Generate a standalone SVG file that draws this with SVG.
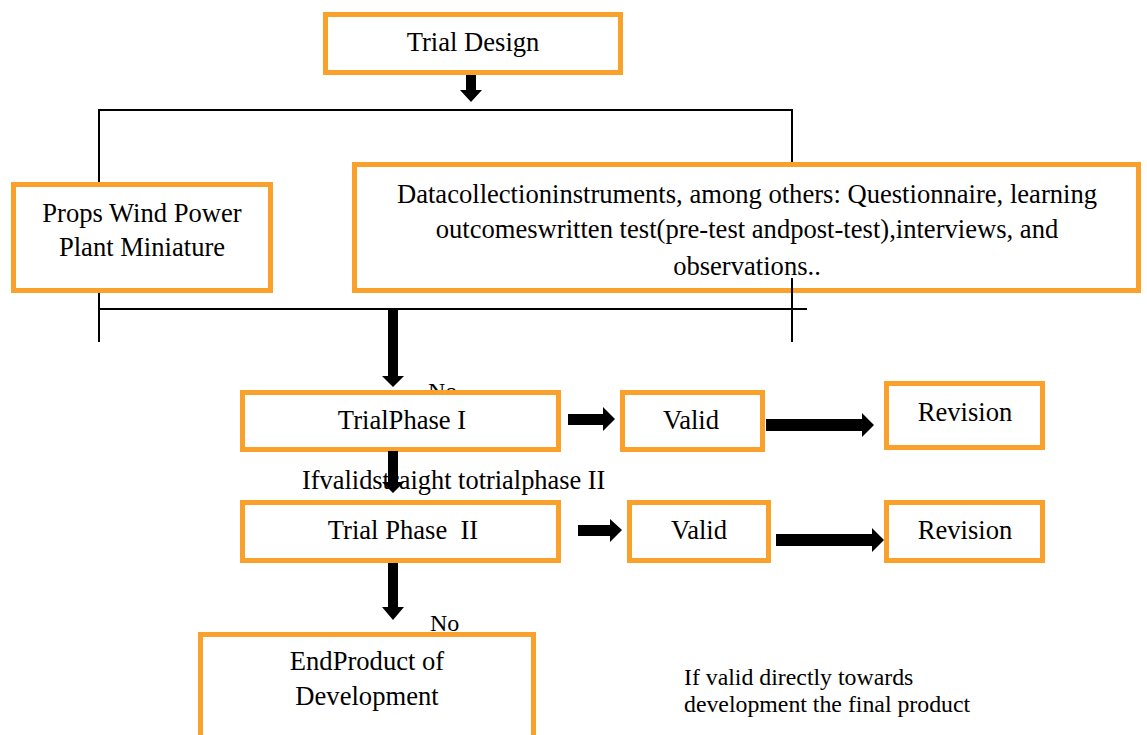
<svg xmlns="http://www.w3.org/2000/svg" width="1147" height="735" viewBox="0 0 1147 735">
<style>
.box{fill:#fff;stroke:#F9A12B;stroke-width:5}
.t{font-family:"Liberation Serif","Times New Roman",serif;font-size:26.6px;fill:#000;text-anchor:middle}
.tl{font-family:"Liberation Serif","Times New Roman",serif;font-size:26.4px;fill:#000}
.no{font-family:"Liberation Serif","Times New Roman",serif;font-size:24px;fill:#000}
.nt{font-family:"Liberation Serif","Times New Roman",serif;font-size:23.8px;fill:#000}
.ln{stroke:#000;stroke-width:2;fill:none}
.ar{fill:#000}
</style>
<rect width="1147" height="735" fill="#fff"/>
<g id="connectors">
<line class="ln" x1="99" y1="110" x2="793" y2="110"/>
<line class="ln" x1="99" y1="109" x2="99" y2="183"/>
<line class="ln" x1="792" y1="109" x2="792" y2="190"/>
<line class="ln" x1="99" y1="309" x2="807" y2="309"/>
<line class="ln" x1="99" y1="292" x2="99" y2="342"/>
<line class="ln" x1="792" y1="278" x2="792" y2="342"/>
<polygon class="ar" points="466,75 476,75 476,90 482,90 471,102 460,90 466,90"/>
<polygon class="ar" points="388,309 398,309 398,376 404,376 393,387 382,376 388,376"/>
<polygon class="ar" points="388,563 398,563 398,607 404,607 393,620 382,607 388,607"/>
<polygon class="ar" points="568,414 603,414 603,407 615,419 603,431 603,425 568,425"/>
<polygon class="ar" points="766,419 862,419 862,413 874,425 862,437 862,431 766,431"/>
<polygon class="ar" points="578,525 610,525 610,519 622,530 610,542 610,536 578,536"/>
<polygon class="ar" points="776,534 872,534 872,528 884,540 872,552 872,546 776,546"/>
</g>
<text class="no" x="428" y="399">No</text>
<text class="no" x="430" y="631">No</text>
<g id="trial-design"><rect class="box" x="325.5" y="14.5" width="295" height="58"/><text class="t" x="473" y="51">Trial Design</text></g>
<g id="props"><rect class="box" x="13.5" y="184.5" width="257" height="106"/><text class="t" x="142" y="222">Props Wind Power</text><text class="t" x="142" y="256">Plant Miniature</text></g>
<g id="data"><rect class="box" x="354.5" y="164.5" width="784" height="126"/><text class="t" x="747" y="203">Datacollectioninstruments, among others: Questionnaire, learning</text><text class="t" x="747" y="238">outcomeswritten test(pre-test andpost-test),interviews, and</text><text class="t" x="747" y="275">observations..</text></g>
<line class="ln" x1="792" y1="278" x2="792" y2="295"/>
<g id="phase1"><rect class="box" x="242.5" y="392.5" width="316" height="57"/><text class="t" x="402" y="429">TrialPhase I</text></g>
<g id="valid1"><rect class="box" x="622.5" y="392.5" width="140" height="57"/><text class="t" x="691" y="429">Valid</text></g>
<g id="revision1"><rect class="box" x="886.5" y="383.5" width="156" height="64"/><text class="t" x="965" y="421">Revision</text></g>
<text class="tl" x="302" y="489">Ifvalidstraight totrialphase II</text>
<polygon class="ar" points="388,451 398,451 398,482 404,482 393,493 382,482 388,482"/>
<g id="phase2"><rect class="box" x="242.5" y="502.5" width="316" height="58"/><text class="t" x="403" y="539">Trial Phase &#160;II</text></g>
<g id="valid2"><rect class="box" x="629.5" y="502.5" width="139" height="58"/><text class="t" x="699" y="539">Valid</text></g>
<g id="revision2"><rect class="box" x="886.5" y="502.5" width="156" height="58"/><text class="t" x="965" y="539">Revision</text></g>
<g id="end"><rect class="box" x="200.5" y="634.5" width="333" height="110"/><text class="t" x="367" y="670">EndProduct of</text><text class="t" x="367" y="705">Development</text></g>
<g id="note"><text class="nt" x="684" y="685">If valid directly towards</text><text class="nt" x="684" y="712">development the final product</text></g>
</svg>
